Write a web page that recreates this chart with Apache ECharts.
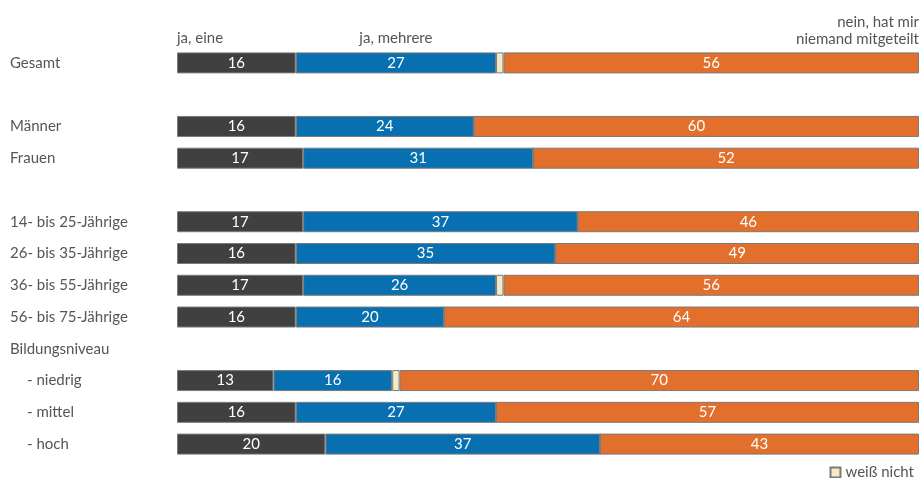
<!DOCTYPE html>
<html><head><meta charset="utf-8">
<script src="https://cdn.jsdelivr.net/npm/echarts@6/dist/echarts.min.js"></script>
<style>html,body{margin:0;padding:0;background:#fff}#c{width:921px;height:478px}</style>
</head><body><div id="c"></div>
<script>
const categories = ['Gesamt','', 'Männer','Frauen','', '14- bis 25-Jährige','26- bis 35-Jährige','36- bis 55-Jährige','56- bis 75-Jährige','Bildungsniveau','- niedrig','- mittel','- hoch'];
const jaEine     = [16, null, 16, 17, null, 17, 16, 17, 16, null, 13, 16, 20];
const jaMehrere  = [27, null, 24, 31, null, 37, 35, 26, 20, null, 16, 27, 37];
const weissNicht = [1,  null, 0,  0,  null, 0,  0,  1,  0,  null, 1,  0,  0];
const nein       = [56, null, 60, 52, null, 46, 49, 56, 64, null, 70, 57, 43];
const seriesNames = ['ja, eine','ja, mehrere','weiß nicht','nein, hat mir\nniemand mitgeteilt'];

const FONT = 'Lato, "Open Sans", sans-serif';
const TXT = '#555';
const FS = 15;
const chart = echarts.init(document.getElementById('c'));
const mk = (name, data, color, showLabel) => ({
  name, type:'bar', stack:'s', data, barWidth:21,
  itemStyle:{color, borderColor:'#7a7a7a', borderWidth:1},
  label:{show:showLabel, position:'inside', color:'#fff', fontFamily:FONT, fontSize:FS,
         formatter:p=> (p.value ? p.value : '')},
  emphasis:{disabled:true}
});
chart.setOption({
  animation:false,
  grid:{left:177, right:2, top:47, bottom:18, containLabel:false},
  xAxis:{type:'value', min:0, max:100, show:false},
  yAxis:{type:'category', data:categories, inverse:true,
    axisLine:{show:false}, axisTick:{show:false},
    axisLabel:{align:'left', margin:167, color:TXT, fontFamily:FONT, fontSize:FS,
      formatter:v=> v.startsWith('-') ? '{i|'+v+'}' : v,
      rich:{i:{padding:[0,0,0,17], color:TXT, fontFamily:FONT, fontSize:FS}}}},
  legend:{data:[seriesNames[2]], right:2, top:460, itemWidth:10, itemHeight:10, itemGap:6,
    icon:'rect', textStyle:{color:TXT, fontFamily:FONT, fontSize:FS}},
  series:[
    mk(seriesNames[0], jaEine, '#404040', true),
    mk(seriesNames[1], jaMehrere, '#0870b0', true),
    mk(seriesNames[2], weissNicht, '#f3e9c4', false),
    mk(seriesNames[3], nein, '#e2702c', true)
  ]
});
// headers anchored to Gesamt bar segments
const x0 = chart.convertToPixel({gridIndex:0},[0,0])[0];
const xb1 = chart.convertToPixel({gridIndex:0},[jaEine[0],0])[0];
const xb2 = chart.convertToPixel({gridIndex:0},[jaEine[0]+jaMehrere[0],0])[0];
const xEnd = chart.convertToPixel({gridIndex:0},[100,0])[0];
const yTop = chart.convertToPixel({gridIndex:0},[0,0])[1] - 14;
const st = {fill:TXT, font:FS+'px '+FONT};
chart.setOption({graphic:[
  {type:'text', x:x0, y:yTop-18, style:Object.assign({text:seriesNames[0]},st)},
  {type:'text', x:(xb1+xb2)/2, y:yTop-18, style:Object.assign({text:seriesNames[1], align:'center'},st)},
  {type:'text', x:xEnd, y:yTop-35, style:Object.assign({text:seriesNames[3], align:'right', lineHeight:17},st)}
]});
</script></body></html>
